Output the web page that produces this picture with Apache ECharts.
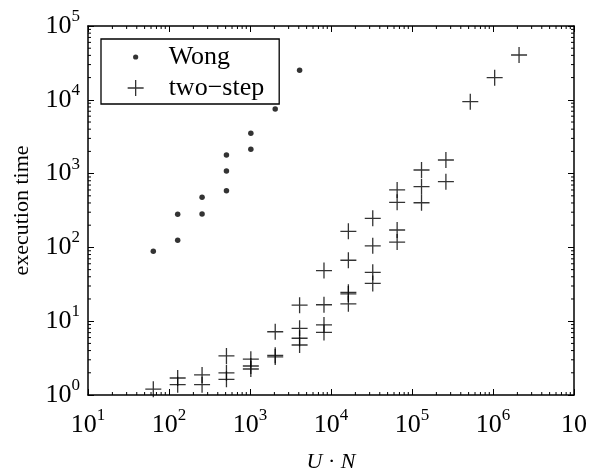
<!DOCTYPE html>
<html>
<head>
<meta charset="utf-8">
<script src="https://cdn.jsdelivr.net/npm/echarts@6/dist/echarts.min.js"></script>
<style>
html,body{margin:0;padding:0;background:#fff;}
#chart{width:594px;height:468px;}
</style>
</head>
<body>
<div id="chart"></div>
<script>
// ---- data ----
const wongX = [64, 128, 128, 256, 256, 512, 512, 512, 1024, 1024, 2048, 4096];
const wongY = [89, 125, 281, 284, 477, 587, 1085, 1786, 2134, 3515, 7500, 25100];

const twoStepX = [64, 128, 128, 256, 256, 512, 512, 512, 1024, 1024, 1024,
  2048, 2048, 2048, 4096, 4096, 4096, 4096, 8192, 8192, 8192, 8192,
  16384, 16384, 16384, 16384, 16384, 32768, 32768, 32768, 32768,
  65536, 65536, 65536, 65536, 131072, 131072, 131072, 262144, 262144,
  524288, 1048576, 2097152];
const twoStepY = [1.2, 1.7, 1.38, 1.87, 1.38, 3.38, 2.0, 1.63, 3.06, 2.47, 2.25,
  7.2, 3.45, 3.28, 16.5, 8.0, 5.87, 4.76, 48.5, 16.7, 8.9, 7.05,
  165, 67, 24.6, 23.4, 17.2, 248, 105, 46, 32.5,
  600, 408, 172, 118, 1119, 665, 403, 1528, 777,
  9434, 19950, 40450];

const seriesNames = ['Wong', 'two\u2212step'];
const xAxisTitle = ['U', 'N'];
const yAxisTitle = 'execution time';
const xRange = [10, 1e7];
const yRange = [1, 1e5];
const hiddenSuperscriptExps = [7]; // the reference shows only "10" at the last x tick

// ---- chart ----
const FONT = 'Liberation Serif';
const chart = echarts.init(document.getElementById('chart'), null, {renderer: 'canvas'});

function pow10Label(v, isX) {
  const e = Math.round(Math.log10(v));
  if (isX && hiddenSuperscriptExps.indexOf(e) >= 0) return '{b|10}';
  return '{b|10}{s|' + e + '}';
}
const tickRich = {
  b: {fontFamily: FONT, fontSize: 26, lineHeight: 36, color: '#000'},
  s: {fontFamily: FONT, fontSize: 17, lineHeight: 17, color: '#000', verticalAlign: 'top'}
};

const plusPath = 'path://M-1,0 L1,0 M0,-1 L0,1';
const dotIcon = 'path://M-8,-8 M8,8 M0,-2.6 A2.6,2.6 0 1 1 0,2.6 A2.6,2.6 0 1 1 0,-2.6 Z';
const plusIcon = 'path://M-8,0 L8,0 M0,-8 L0,8';

const axisLineStyle = {color: '#000', width: 1.5};

const option = {
  animation: false,
  backgroundColor: '#fff',
  grid: {left: 88, right: 20, top: 26, bottom: 73, containLabel: false, outerBoundsMode: 'none'},
  xAxis: [{
    type: 'log', logBase: 10, min: xRange[0], max: xRange[1], splitNumber: 6,
    position: 'bottom',
    axisLine: {show: true, lineStyle: axisLineStyle},
    axisTick: {show: true, inside: true, length: 6, lineStyle: {color: '#000', width: 1}},
    axisLabel: {show: true, margin: 12, formatter: v => pow10Label(v, true), rich: tickRich, showMinLabel: true, showMaxLabel: true},
    splitLine: {show: false},
    name: '{i|' + xAxisTitle[0] + '}{n| \u00b7 }{i|' + xAxisTitle[1] + '}',
    nameLocation: 'middle', nameGap: 56,
    nameTextStyle: {
      fontFamily: FONT, fontSize: 22, color: '#000',
      rich: {
        i: {fontFamily: FONT, fontSize: 22, fontStyle: 'italic', color: '#000'},
        n: {fontFamily: FONT, fontSize: 22, color: '#000'}
      }
    }
  }, {
    type: 'log', logBase: 10, min: xRange[0], max: xRange[1], splitNumber: 6,
    position: 'top',
    axisLine: {show: true, lineStyle: axisLineStyle},
    axisTick: {show: true, inside: true, length: 6, lineStyle: {color: '#000', width: 1}},
    axisLabel: {show: false},
    splitLine: {show: false}
  }],
  yAxis: [{
    type: 'log', logBase: 10, min: yRange[0], max: yRange[1], splitNumber: 5,
    position: 'left',
    axisLine: {show: true, lineStyle: axisLineStyle},
    axisTick: {show: true, inside: true, length: 6, lineStyle: {color: '#000', width: 1}},
    axisLabel: {show: true, margin: 8, formatter: v => pow10Label(v, false), rich: tickRich, showMinLabel: true, showMaxLabel: true},
    splitLine: {show: false},
    name: yAxisTitle, nameLocation: 'middle', nameGap: 55,
    nameTextStyle: {fontFamily: FONT, fontSize: 22, color: '#000'}
  }, {
    type: 'log', logBase: 10, min: yRange[0], max: yRange[1], splitNumber: 5,
    position: 'right',
    axisLine: {show: true, lineStyle: axisLineStyle},
    axisTick: {show: true, inside: true, length: 6, lineStyle: {color: '#000', width: 1}},
    axisLabel: {show: false},
    splitLine: {show: false}
  }],
  legend: {
    orient: 'vertical', left: 101, top: 39,
    padding: [5, 15, 3, 26],
    itemWidth: 16, itemHeight: 16, itemGap: 5,
    borderColor: '#000', borderWidth: 1.3, backgroundColor: '#fff',
    textStyle: {fontFamily: FONT, fontSize: 26, color: '#000', padding: [0, 0, 0, 20]},
    data: [
      {name: seriesNames[0], icon: dotIcon, itemStyle: {color: '#000', borderWidth: 0}},
      {name: seriesNames[1], icon: plusIcon, itemStyle: {color: 'rgba(0,0,0,0)', borderColor: '#000', borderWidth: 1.3}}
    ]
  },
  series: [{
    type: 'custom', name: 'minorTicks', silent: true, clip: false, z: 1,
    xAxisIndex: 0, yAxisIndex: 0,
    data: [[xRange[0], yRange[0]]],
    renderItem: function (params, api) {
      const children = [];
      const lo = api.coord([xRange[0], yRange[0]]);
      const hi = api.coord([xRange[1], yRange[1]]);
      const len = 3;
      const st = {stroke: '#000', lineWidth: 1};
      const dx0 = Math.round(Math.log10(xRange[0])), dx1 = Math.round(Math.log10(xRange[1]));
      for (let d = dx0; d < dx1; d++) {
        for (let m = 2; m < 10; m++) {
          const px = api.coord([m * Math.pow(10, d), yRange[0]])[0];
          children.push({type: 'line', shape: {x1: px, y1: lo[1], x2: px, y2: lo[1] - len}, style: st});
          children.push({type: 'line', shape: {x1: px, y1: hi[1], x2: px, y2: hi[1] + len}, style: st});
        }
      }
      const dy0 = Math.round(Math.log10(yRange[0])), dy1 = Math.round(Math.log10(yRange[1]));
      for (let d = dy0; d < dy1; d++) {
        for (let m = 2; m < 10; m++) {
          const py = api.coord([xRange[0], m * Math.pow(10, d)])[1];
          children.push({type: 'line', shape: {x1: lo[0], y1: py, x2: lo[0] + len, y2: py}, style: st});
          children.push({type: 'line', shape: {x1: hi[0], y1: py, x2: hi[0] - len, y2: py}, style: st});
        }
      }
      return {type: 'group', children: children};
    }
  }, {
    type: 'scatter', name: seriesNames[0],
    xAxisIndex: 0, yAxisIndex: 0,
    symbol: 'circle', symbolSize: 5.5,
    itemStyle: {color: '#000'},
    data: wongX.map((x, i) => [x, wongY[i]]),
    z: 3
  }, {
    type: 'scatter', name: seriesNames[1],
    xAxisIndex: 0, yAxisIndex: 0,
    symbol: plusPath, symbolSize: 16,
    itemStyle: {color: 'rgba(0,0,0,0)', borderColor: '#000', borderWidth: 1.3},
    data: twoStepX.map((x, i) => [x, twoStepY[i]]),
    z: 3
  }]
};
chart.setOption(option);
</script>
</body>
</html>
